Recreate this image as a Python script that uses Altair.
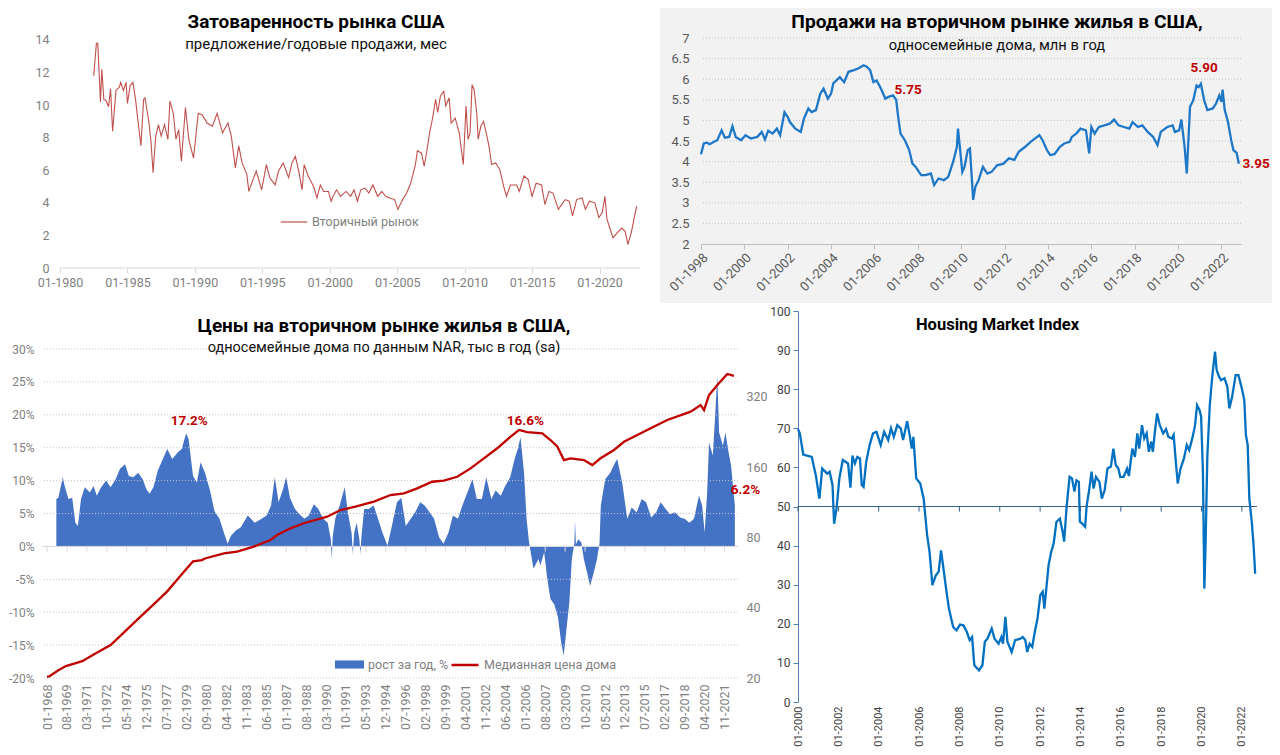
import altair as alt
import pandas as pd

FONT = "Roboto"

# ---------------- Panel 1: months of supply ----------------
p1_title = "Затоваренность рынка США"
p1_subtitle = "предложение/годовые продажи, мес"
p1_series = "Вторичный рынок"
p1_ticks = ["01-1980", "01-1985", "01-1990", "01-1995", "01-2000", "01-2005", "01-2010", "01-2015", "01-2020"]
p1_yticks = [0, 2, 4, 6, 8, 10, 12, 14]
p1_axis_span = [1980, 2023]
inv_year = [1982.5, 1982.7, 1982.8, 1983.0, 1983.1, 1983.25, 1983.4, 1983.6, 1983.75, 1983.9,
            1984.15, 1984.4, 1984.5, 1984.7, 1984.9, 1985.0, 1985.2, 1985.4, 1985.6, 1985.8,
            1986.0, 1986.2, 1986.3, 1986.6, 1986.75, 1986.9, 1987.1, 1987.3, 1987.5, 1987.75,
            1988.0, 1988.15, 1988.4, 1988.6, 1988.8, 1989.0, 1989.3, 1989.55, 1989.9, 1990.25,
            1990.55, 1990.9, 1991.3, 1991.65, 1992.05, 1992.45, 1992.7, 1993.0, 1993.25, 1993.5,
            1993.85, 1994.0, 1994.25, 1994.55, 1994.95, 1995.3, 1995.55, 1995.95, 1996.2, 1996.55,
            1996.95, 1997.2, 1997.45, 1997.7, 1997.95, 1998.1, 1998.4, 1998.8, 1999.05, 1999.3,
            1999.55, 1999.9, 2000.1, 2000.25, 2000.5, 2000.8, 2001.2, 2001.55, 2001.8, 2002.05,
            2002.3, 2002.6, 2002.9, 2003.2, 2003.55, 2003.85, 2004.15, 2004.45, 2004.8, 2005.05,
            2005.4, 2005.7, 2006.0, 2006.35, 2006.5, 2006.8, 2007.0, 2007.2, 2007.4, 2007.6,
            2007.85, 2008.0, 2008.2, 2008.45, 2008.6, 2008.85, 2009.0, 2009.3, 2009.6, 2009.9,
            2010.1, 2010.25, 2010.4, 2010.55, 2010.7, 2010.9, 2011.0, 2011.2, 2011.4, 2011.6,
            2011.8, 2012.0, 2012.3, 2012.6, 2012.9, 2013.1, 2013.4, 2013.85, 2014.05, 2014.4,
            2014.7, 2015.0, 2015.3, 2015.7, 2015.95, 2016.25, 2016.55, 2016.95, 2017.45, 2017.75,
            2018.0, 2018.3, 2018.7, 2018.95, 2019.25, 2019.65, 2019.95, 2020.2, 2020.4, 2020.55,
            2020.8, 2021.0, 2021.3, 2021.65, 2021.9, 2022.1, 2022.35, 2022.75]
inv_val = [11.8, 13.8, 13.8, 10.2, 12.2, 10.35, 10.3, 9.9, 11.0, 8.4,
           10.9, 11.1, 11.4, 10.9, 11.4, 10.1, 11.2, 11.4, 10.35, 8.9,
           7.5, 10.35, 10.45, 8.9, 7.7, 5.85, 8.1, 8.8, 8.1, 8.8,
           7.9, 10.25, 9.5, 7.9, 8.5, 6.55, 9.85, 7.9, 6.75, 9.5,
           9.4, 8.9, 8.7, 9.5, 8.3, 8.9, 8.1, 6.15, 7.5, 6.45,
           5.75, 4.7, 5.3, 5.95, 4.8, 6.35, 5.55, 5.1, 5.95, 6.45,
           5.55, 6.45, 6.85, 5.95, 4.8, 6.35, 5.65, 5.0, 4.3, 5.1,
           4.7, 4.7, 4.1, 4.4, 4.8, 4.4, 4.7, 4.4, 4.8, 4.1,
           4.8, 4.9, 4.6, 5.1, 4.4, 4.7, 4.4, 4.3, 4.2, 3.6,
           4.2, 4.6, 5.2, 6.35, 7.2, 7.05, 6.25, 7.2, 8.3, 9.1,
           10.35, 9.55, 10.55, 10.85, 9.95, 10.45, 8.9, 9.2, 8.3, 6.35,
           9.95, 7.9, 8.3, 11.25, 10.95, 9.5, 7.9, 8.7, 9.0, 8.3,
           7.5, 6.35, 6.45, 6.05, 5.0, 4.4, 5.1, 5.1, 4.7, 5.65,
           5.45, 4.4, 5.2, 5.1, 3.9, 4.7, 4.6, 3.6, 4.2, 4.1,
           3.2, 4.2, 4.3, 3.6, 4.1, 4.0, 3.1, 3.4, 4.4, 3.0,
           2.35, 1.85, 2.15, 2.45, 2.25, 1.45, 2.15, 3.8]

# ---------------- Panel 2: existing single-family home sales ----------------
p2_title = "Продажи на вторичном рынке жилья в США,"
p2_subtitle = "односемейные дома, млн в год"
p2_ticks = ["01-1998", "01-2000", "01-2002", "01-2004", "01-2006", "01-2008", "01-2010", "01-2012",
            "01-2014", "01-2016", "01-2018", "01-2020", "01-2022"]
p2_yticks = [2, 2.5, 3, 3.5, 4, 4.5, 5, 5.5, 6, 6.5, 7]
sales_year = [1998.0, 1998.13, 1998.27, 1998.4, 1998.6, 1998.75, 1998.95, 1999.1, 1999.3, 1999.45,
              1999.6, 1999.85, 2000.05, 2000.3, 2000.6, 2000.8, 2000.95, 2001.1, 2001.3, 2001.5,
              2001.65, 2001.85, 2002.0, 2002.1, 2002.35, 2002.6, 2002.75, 2002.95, 2003.1, 2003.3,
              2003.5, 2003.65, 2003.85, 2004.0, 2004.1, 2004.4, 2004.6, 2004.8, 2005.05, 2005.25,
              2005.5, 2005.65, 2005.8, 2005.95, 2006.1, 2006.3, 2006.5, 2006.65, 2006.85, 2007.0,
              2007.1, 2007.2, 2007.4, 2007.6, 2007.75, 2007.9, 2008.15, 2008.35, 2008.6, 2008.75,
              2008.95, 2009.2, 2009.4, 2009.55, 2009.65, 2009.8, 2009.85, 2009.95, 2010.05, 2010.15,
              2010.3, 2010.4, 2010.55, 2010.65, 2010.8, 2011.0, 2011.2, 2011.4, 2011.65, 2011.95,
              2012.2, 2012.45, 2012.65, 2012.95, 2013.2, 2013.5, 2013.6, 2013.75, 2013.95, 2014.1,
              2014.3, 2014.55, 2014.75, 2015.0, 2015.1, 2015.3, 2015.5, 2015.75, 2015.9, 2016.0,
              2016.15, 2016.35, 2016.6, 2016.85, 2017.05, 2017.25, 2017.5, 2017.75, 2017.9, 2018.15,
              2018.35, 2018.6, 2018.85, 2019.05, 2019.2, 2019.5, 2019.75, 2019.85, 2020.05, 2020.15,
              2020.3, 2020.4, 2020.55, 2020.7, 2020.85, 2020.95, 2021.05, 2021.2, 2021.35, 2021.6,
              2021.75, 2021.9, 2022.0, 2022.05, 2022.15, 2022.3, 2022.45, 2022.55, 2022.7, 2022.8]
sales_val = [4.18, 4.44, 4.46, 4.42, 4.48, 4.52, 4.76, 4.58, 4.6, 4.86,
             4.6, 4.52, 4.64, 4.56, 4.6, 4.72, 4.54, 4.75, 4.68, 4.8,
             4.64, 5.2, 5.08, 4.96, 4.8, 4.72, 5.05, 5.29, 5.2, 5.25,
             5.65, 5.77, 5.53, 5.65, 5.9, 6.05, 5.93, 6.18, 6.22, 6.26,
             6.34, 6.3, 6.22, 5.93, 5.97, 5.77, 5.53, 5.57, 5.61, 5.5,
             5.05, 4.68, 4.52, 4.28, 3.95, 3.87, 3.67, 3.67, 3.71, 3.43,
             3.59, 3.55, 3.63, 3.87, 4.04, 4.36, 4.8, 4.28, 3.75, 3.87,
             4.28, 4.32, 3.07, 3.39, 3.55, 3.87, 3.71, 3.75, 3.91, 3.95,
             4.08, 4.04, 4.24, 4.36, 4.48, 4.6, 4.64, 4.52, 4.28, 4.16,
             4.18, 4.36, 4.44, 4.48, 4.6, 4.68, 4.8, 4.76, 4.2, 4.84,
             4.68, 4.84, 4.88, 4.92, 5.02, 4.88, 4.84, 4.8, 4.96, 4.84,
             4.88, 4.72, 4.6, 4.4, 4.72, 4.84, 4.88, 4.72, 4.76, 5.02,
             4.36, 3.71, 5.33, 5.49, 5.85, 5.81, 5.89, 5.49, 5.25, 5.29,
             5.41, 5.61, 5.45, 5.75, 5.25, 4.96, 4.52, 4.28, 4.21, 3.95]
p2_note_year = [2007.55, 2021.2, 2023.6]
p2_note_val = [5.73, 6.27, 3.95]
p2_note_text = ["5.75", "5.90", "3.95"]

# ---------------- Panel 3: prices ----------------
p3_title = "Цены на вторичном рынке жилья в США,"
p3_subtitle = "односемейные дома по данным NAR, тыс в год (sa)"
p3_bar_name = "рост за год, %"
p3_line_name = "Медианная цена дома"
p3_ticks = ["01-1968", "08-1969", "03-1971", "10-1972", "05-1974", "12-1975", "07-1977", "02-1979",
            "09-1980", "04-1982", "11-1983", "06-1985", "01-1987", "08-1988", "03-1990", "10-1991",
            "05-1993", "12-1994", "07-1996", "02-1998", "09-1999", "04-2001", "11-2002", "06-2004",
            "01-2006", "08-2007", "03-2009", "10-2010", "05-2012", "12-2013", "07-2015", "02-2017",
            "09-2018", "04-2020", "11-2021"]
p3_yticks = [-20, -15, -10, -5, 0, 5, 10, 15, 20, 25, 30]
p3_price_ticks = [20, 40, 80, 160, 320]
yoy_year = [1968.74, 1968.9, 1969.25, 1969.4, 1969.7, 1970.0, 1970.25, 1970.45, 1970.7, 1971.0,
            1971.4, 1971.7, 1971.95, 1972.3, 1972.7, 1973.05, 1973.45, 1973.8, 1974.2, 1974.5,
            1974.85, 1975.25, 1975.6, 1975.9, 1976.15, 1976.45, 1976.8, 1977.2, 1977.55, 1977.95,
            1978.4, 1978.7, 1979.05, 1979.25, 1979.6, 1979.9, 1980.2, 1980.55, 1980.95, 1981.3,
            1981.7, 1982.05, 1982.35, 1982.6, 1983.0, 1983.4, 1983.95, 1984.5, 1985.05, 1985.45,
            1985.8, 1986.1, 1986.4, 1986.75, 1987.0, 1987.3, 1987.7, 1988.05, 1988.45, 1988.8,
            1989.2, 1989.55, 1989.95, 1990.3, 1990.55, 1990.62, 1990.7, 1990.9, 1991.25, 1991.65,
            1991.9, 1992.2, 1992.3, 1992.4, 1992.6, 1992.82, 1992.9, 1992.98, 1993.2, 1993.55,
            1993.95, 1994.3, 1994.65, 1995.05, 1995.4, 1995.8, 1996.15, 1996.5, 1996.9, 1997.25,
            1997.65, 1998.0, 1998.4, 1998.75, 1999.15, 1999.5, 1999.9, 2000.25, 2000.65, 2001.0,
            2001.4, 2001.8, 2002.15, 2002.55, 2002.9, 2003.3, 2003.65, 2004.05, 2004.4, 2004.8,
            2005.15, 2005.4, 2005.62, 2005.9, 2006.1, 2006.3, 2006.65, 2007.05, 2007.2, 2007.5,
            2007.75, 2008.0, 2008.3, 2008.6, 2008.85, 2009.05, 2009.3, 2009.5, 2009.7, 2009.9,
            2009.95, 2010.02, 2010.2, 2010.45, 2010.65, 2010.9, 2011.15, 2011.45, 2011.7, 2011.9,
            2012.0, 2012.35, 2012.75, 2013.15, 2013.3, 2013.7, 2014.1, 2014.45, 2014.85, 2015.25,
            2015.6, 2016.0, 2016.4, 2016.75, 2017.15, 2017.5, 2017.9, 2018.3, 2018.65, 2019.05,
            2019.4, 2019.8, 2020.05, 2020.25, 2020.45, 2020.6, 2020.9, 2021.1, 2021.25, 2021.4,
            2021.7, 2021.9, 2022.15, 2022.35, 2022.55, 2022.65]
yoy_val = [7.2, 7.4, 10.5, 9.2, 7.2, 7.4, 3.6, 3.1, 7.2, 9.0,
           8.2, 9.2, 7.7, 9.0, 10.0, 9.0, 10.2, 11.8, 12.5, 10.7,
           10.5, 11.2, 10.2, 8.7, 8.0, 9.0, 11.5, 13.3, 14.8, 13.3,
           14.3, 14.8, 17.2, 16.3, 10.7, 9.7, 12.8, 11.2, 8.5, 5.4,
           4.2, 2.1, 0.4, 1.6, 2.4, 2.9, 4.7, 3.6, 4.2, 4.7,
           6.2, 10.5, 6.7, 8.7, 10.5, 7.4, 5.7, 4.9, 4.2, 4.7,
           6.4, 5.7, 4.2, 3.6, 1.0, -1.9, 1.5, 4.2, 6.2, 9.0,
           5.2, 2.0, -1.2, 2.0, 3.6, 1.0, -1.2, 1.5, 5.7, 5.7,
           6.2, 4.2, 2.1, 0.1, 3.1, 6.7, 7.4, 3.1, 4.2, 5.2,
           6.7, 6.2, 5.2, 4.2, 1.4, 0.4, 2.1, 4.7, 4.2, 6.2,
           8.2, 10.2, 7.2, 7.2, 10.5, 7.2, 8.5, 7.7, 9.2, 10.5,
           13.3, 14.8, 16.6, 11.2, 4.2, 0.6, -3.4, -1.9, -2.9, -0.9,
           -5.0, -8.0, -8.8, -10.8, -14.6, -16.6, -12.1, -8.5, -1.9, 0.5,
           3.9, 0.3, 1.1, 0.6, -1.9, -3.9, -6.0, -3.9, -1.9, 0.5,
           6.2, 10.2, 11.2, 12.8, 13.3, 9.7, 4.2, 5.9, 5.2, 7.2,
           6.7, 4.4, 5.2, 6.7, 5.7, 4.9, 5.2, 4.4, 4.2, 3.6,
           4.2, 7.7, 6.2, 2.1, 8.2, 15.8, 13.8, 20.4, 25.9, 17.3,
           15.3, 17.3, 14.3, 12.3, 8.2, 6.2]
price_year = [1968.0, 1968.17, 1968.9, 1969.5, 1970.8, 1971.74, 1973.05, 1974.18, 1975.3, 1976.43,
              1977.55, 1978.67, 1979.6, 1980.3, 1980.55, 1982.05, 1983.1, 1984.43, 1985.75, 1986.28,
              1987.34, 1988.4, 1990.26, 1991.31, 1992.5, 1993.97, 1995.29, 1996.36, 1997.41, 1998.6,
              1999.53, 2000.59, 2001.65, 2002.71, 2003.77, 2004.83, 2005.5, 2006.16, 2007.35, 2008.0,
              2008.54, 2009.07, 2009.6, 2010.66, 2011.32, 2011.98, 2013.05, 2013.84, 2014.9, 2015.96,
              2017.28, 2019.14, 2019.93, 2020.2, 2020.6, 2021.26, 2022.05, 2022.58]
price_val = [20.2, 20.3, 21.6, 22.5, 23.6, 25.3, 27.7, 31.6, 36.1, 41.1,
             47.0, 55.3, 63.2, 64.0, 65.0, 68.4, 69.5, 73.0, 78.0, 81.9,
             87.5, 92.0, 98.1, 104.8, 108.3, 113.8, 121.5, 123.6, 129.8, 138.5,
             140.0, 145.5, 158.0, 174.5, 192.6, 216.0, 230.7, 226.0, 223.0, 209.0,
             196.0, 171.5, 174.5, 171.5, 163.3, 174.5, 189.4, 205.4, 219.6, 234.6,
             254.6, 276.4, 295.0, 280.6, 325.8, 359.6, 400.6, 393.0]
p3_note_year = [1979.3, 2006.0, 2023.5]
p3_note_val = [19.0, 19.0, 8.6]
p3_note_text = ["17.2%", "16.6%", "6.2%"]

# ---------------- Panel 4: Housing Market Index ----------------
p4_title = "Housing Market Index"
p4_ticks = ["01-2000", "01-2002", "01-2004", "01-2006", "01-2008", "01-2010", "01-2012", "01-2014",
            "01-2016", "01-2018", "01-2020", "01-2022"]
p4_yticks = [0, 10, 20, 30, 40, 50, 60, 70, 80, 90, 100]
p4_ref = 50
hmi_year = [2000.0, 2000.09, 2000.26, 2000.68, 2000.89, 2001.06, 2001.2, 2001.45, 2001.57, 2001.71,
            2001.79, 2001.91, 2002.05, 2002.22, 2002.48, 2002.6, 2002.7, 2002.82, 2002.94, 2003.07,
            2003.16, 2003.25, 2003.38, 2003.55, 2003.72, 2003.89, 2004.1, 2004.27, 2004.47, 2004.61,
            2004.75, 2004.92, 2005.09, 2005.21, 2005.41, 2005.55, 2005.64, 2005.72, 2005.86, 2006.06,
            2006.23, 2006.4, 2006.52, 2006.66, 2006.83, 2006.97, 2007.09, 2007.21, 2007.34, 2007.48,
            2007.69, 2007.86, 2008.03, 2008.2, 2008.37, 2008.51, 2008.63, 2008.74, 2008.97, 2009.14,
            2009.26, 2009.39, 2009.6, 2009.74, 2009.94, 2010.08, 2010.16, 2010.28, 2010.38, 2010.59,
            2010.76, 2011.02, 2011.14, 2011.27, 2011.36, 2011.48, 2011.61, 2011.75, 2011.87, 2012.01,
            2012.13, 2012.21, 2012.3, 2012.42, 2012.55, 2012.67, 2012.81, 2012.98, 2013.12, 2013.19,
            2013.32, 2013.46, 2013.58, 2013.7, 2013.8, 2013.92, 2013.97, 2014.09, 2014.23, 2014.31,
            2014.43, 2014.55, 2014.65, 2014.77, 2014.94, 2015.06, 2015.2, 2015.34, 2015.51, 2015.63,
            2015.75, 2015.88, 2015.97, 2016.14, 2016.31, 2016.4, 2016.57, 2016.7, 2016.82, 2016.91,
            2017.05, 2017.16, 2017.28, 2017.39, 2017.51, 2017.59, 2017.68, 2017.8, 2017.93, 2018.1,
            2018.24, 2018.36, 2018.53, 2018.62, 2018.7, 2018.82, 2018.96, 2019.13, 2019.27, 2019.39,
            2019.56, 2019.68, 2019.78, 2019.9, 2019.98, 2020.07, 2020.14, 2020.2, 2020.29, 2020.41,
            2020.53, 2020.67, 2020.75, 2020.87, 2020.97, 2021.14, 2021.28, 2021.38, 2021.52, 2021.69,
            2021.83, 2022.0, 2022.12, 2022.2, 2022.29, 2022.37, 2022.49, 2022.58, 2022.66]
hmi_val = [69.8, 68.7, 63.3, 62.7, 57.8, 52.0, 59.7, 58.4, 58.9, 55.5,
           45.6, 49.5, 57.2, 61.9, 61.0, 54.8, 63.0, 61.0, 62.7, 62.3,
           55.5, 55.0, 61.4, 65.7, 68.7, 69.1, 65.7, 69.1, 67.0, 70.0,
           67.8, 70.8, 70.0, 67.0, 71.8, 67.8, 64.8, 67.8, 57.2, 55.9,
           52.0, 42.7, 38.4, 29.9, 32.4, 33.3, 38.8, 34.1, 29.0, 23.9,
           19.2, 18.3, 19.8, 19.6, 17.9, 15.8, 16.6, 9.4, 8.1, 9.4,
           15.4, 16.2, 18.8, 16.2, 14.9, 16.6, 14.9, 21.8, 15.4, 12.8,
           15.8, 16.2, 16.6, 15.8, 12.8, 14.9, 14.1, 18.3, 21.3, 27.3,
           28.2, 23.9, 28.6, 35.0, 38.4, 40.5, 46.1, 46.9, 43.5, 41.0,
           50.3, 57.6, 57.2, 53.8, 56.7, 56.3, 46.1, 45.6, 44.8, 50.3,
           54.2, 58.9, 54.6, 57.6, 56.3, 52.0, 54.2, 59.7, 60.2, 64.8,
           60.6, 59.7, 57.6, 57.6, 59.7, 57.8, 64.8, 62.7, 68.7, 64.8,
           70.8, 67.4, 68.7, 64.0, 66.6, 64.0, 68.7, 73.8, 70.8, 68.7,
           69.8, 67.8, 67.4, 68.3, 63.1, 55.9, 59.7, 62.3, 65.7, 64.4,
           67.8, 70.8, 75.9, 74.7, 73.0, 58.9, 29.0, 40.1, 63.1, 75.9,
           83.2, 89.6, 84.9, 83.2, 82.3, 82.8, 80.6, 75.1, 78.1, 83.6,
           83.6, 80.2, 77.2, 68.3, 65.7, 52.0, 46.1, 40.1, 32.8]


def ym(s):
    return int(s[3:]) + (int(s[:2]) - 1) / 12.0


LBL = ("(round((datum.value - floor(datum.value + 0.001)) * 12) + 1 < 10 ? '0' : '') + "
       "(round((datum.value - floor(datum.value + 0.001)) * 12) + 1) + '-' + floor(datum.value + 0.001)")

one = pd.DataFrame({"a": [0]})


def frame(L, T, W, H, R, B, fill, opacity):
    return alt.Chart(one).mark_rect(fill=fill, opacity=opacity, strokeWidth=0).encode(
        x=alt.value(-L), x2=alt.value(W + R), y=alt.value(-T), y2=alt.value(H + B))


def title(text, sub, size, subsize, dx, offset, pad):
    kw = dict(text=text, fontSize=size, fontWeight="bold", color="#000000", anchor="middle",
              frame="group", dx=dx, offset=offset, font=FONT)
    if sub:
        kw.update(subtitle=sub, subtitleFontSize=subsize, subtitleColor="#111111",
                  subtitlePadding=pad, subtitleFont=FONT)
    return alt.TitleParams(**kw)


# ---------------- Panel 1 ----------------
W1, H1 = 598, 230
d1 = pd.DataFrame({"year": inv_year, "val": inv_val, "s": [p1_series] * len(inv_year)})
base1 = pd.DataFrame({"x0": [p1_axis_span[0]], "x1": [p1_axis_span[1]], "v": [0]})
xs1 = alt.Scale(domain=[1980 - 18 / 13.49, 2023], nice=False, zero=False)
ys1 = alt.Scale(domain=[0, 14.12], nice=False)
ax_x1 = alt.Axis(values=[ym(t) for t in p1_ticks], labelExpr=LBL, title=None, grid=False, domain=False,
                 tickColor="#d9d9d9", tickSize=5, labelOverlap=False, labelColor="#7f7f7f",
                 labelFontSize=12.5, labelPadding=3, labelFlush=False)
ax_y1 = alt.Axis(values=p1_yticks, title=None, grid=False, domain=False, ticks=False, offset=-18,
                 labelOverlap=False, labelColor="#7f7f7f", labelFontSize=12.5, labelPadding=11)
line1 = alt.Chart(d1).mark_line(strokeWidth=1.1).encode(
    x=alt.X("year:Q", scale=xs1, axis=ax_x1),
    y=alt.Y("val:Q", scale=ys1, axis=ax_y1),
    color=alt.Color("s:N", scale=alt.Scale(range=["#c0504d"]),
                    legend=alt.Legend(title=None, orient="none", legendX=238, legendY=170,
                                      symbolType="stroke", symbolSize=700, symbolStrokeWidth=1.2,
                                      labelFontSize=12.5, labelColor="#7f7f7f", labelFont=FONT)),
)
axis1 = alt.Chart(base1).mark_rule(color="#d9d9d9", strokeWidth=1).encode(
    x=alt.X("x0:Q", scale=xs1, axis=ax_x1), x2="x1:Q", y=alt.Y("v:Q", scale=ys1, axis=ax_y1))
p1 = alt.layer(frame(34, 30, W1, H1, 15, 35, "#ffffff", 0), line1, axis1).properties(
    width=W1, height=H1, title=title(p1_title, p1_subtitle, 19, 15, -25, -44, 5))

# ---------------- Panel 2 ----------------
W2, H2 = 540, 206
d2 = pd.DataFrame({"year": sales_year, "val": sales_val})
n2 = pd.DataFrame({"year": p2_note_year, "val": p2_note_val, "t": p2_note_text})
g2 = pd.DataFrame({"val": p2_yticks[1:]})
xs2 = alt.Scale(domain=[1998, 2022.9], nice=False, zero=False)
ys2 = alt.Scale(domain=[2, 7], nice=False, zero=False)
ax_x2 = alt.Axis(values=[ym(t) for t in p2_ticks], labelExpr=LBL, title=None, grid=False,
                 labelAngle=-45, domainColor="#bfbfbf", tickColor="#bfbfbf", tickSize=5,
                 labelOverlap=False, labelColor="#595959", labelFontSize=13, labelPadding=2, zindex=1)
ax_y2 = alt.Axis(values=p2_yticks, labelExpr="datum.value", title=None, grid=False,
                 domain=False, ticks=False, labelOverlap=False, labelColor="#595959",
                 labelFontSize=13, labelPadding=12, zindex=1)
line2 = alt.Chart(d2).mark_line(color="#1f77c8", strokeWidth=2.3).encode(
    x=alt.X("year:Q", scale=xs2, axis=ax_x2), y=alt.Y("val:Q", scale=ys2, axis=ax_y2))
grid2 = alt.Chart(g2).mark_rule(color="#c4c4c4", strokeDash=[1, 2], strokeWidth=1).encode(
    y=alt.Y("val:Q", scale=ys2, axis=ax_y2))
text2 = alt.Chart(n2).mark_text(color="#c00000", fontWeight="bold", fontSize=13.5, font=FONT).encode(
    x=alt.X("year:Q", scale=xs2, axis=ax_x2), y=alt.Y("val:Q", scale=ys2, axis=ax_y2), text="t:N")
p2 = alt.layer(frame(41, 30, W2, H2, 31, 59, "#f2f2f2", 1), grid2, line2, text2).properties(
    width=W2, height=H2, title=title(p2_title, p2_subtitle, 19.2, 14.7, 26, -44.5, 6))

# ---------------- Panel 3 ----------------
W3, H3 = 696, 367
d3 = pd.DataFrame({"year": yoy_year, "val": yoy_val, "s": [p3_bar_name] * len(yoy_year)})
dp = pd.DataFrame({"year": price_year, "price": price_val, "s": [p3_line_name] * len(price_year)})
n3 = pd.DataFrame({"year": p3_note_year, "val": p3_note_val, "t": p3_note_text})
tk3 = pd.DataFrame({"year": [ym(t) for t in p3_ticks], "y0": [0] * len(p3_ticks),
                    "y1": [-0.8] * len(p3_ticks)})
g3 = pd.DataFrame({"val": p3_yticks})
z3 = pd.DataFrame({"val": [0]})
xs3 = alt.Scale(domain=[1967.6, 2022.9], nice=False, zero=False)
ys3 = alt.Scale(domain=[-20, 35.78], nice=False, zero=False)
ax_x3 = alt.Axis(values=[ym(t) for t in p3_ticks], labelExpr=LBL, title=None, grid=False,
                 domain=False, ticks=False, labelAngle=-90, labelColor="#7f7f7f",
                 labelOverlap=False, labelFontSize=12.5, labelPadding=6)
ax_y3 = alt.Axis(values=p3_yticks, labelExpr="datum.value + '%'", title=None, grid=False,
                 domain=False, ticks=False, labelOverlap=False,
                 labelColor="#7f7f7f", labelFontSize=12, labelPadding=8)
area3 = alt.Chart(d3).mark_area(interpolate="linear").encode(
    x=alt.X("year:Q", scale=xs3, axis=ax_x3),
    y=alt.Y("val:Q", scale=ys3, axis=ax_y3),
    fill=alt.Fill("s:N", scale=alt.Scale(range=["#4472c4"]),
                  legend=alt.Legend(title=None, orient="none", legendX=293, legendY=339,
                                    symbolType="M-1,-0.28H1V0.28H-1Z", symbolSize=841,
                                    symbolStrokeWidth=0, labelFontSize=12.5, labelColor="#7f7f7f",
                                    labelFont=FONT)),
)
grid3 = alt.Chart(g3).mark_rule(color="#c4c4c4", strokeDash=[1, 2], strokeWidth=1).encode(
    y=alt.Y("val:Q", scale=ys3, axis=ax_y3))
zero3 = alt.Chart(z3).mark_rule(color="#d9d9d9", strokeWidth=1).encode(
    y=alt.Y("val:Q", scale=ys3, axis=ax_y3))
ticks3 = alt.Chart(tk3).mark_rule(color="#d9d9d9", strokeWidth=1).encode(
    x=alt.X("year:Q", scale=xs3, axis=ax_x3), y=alt.Y("y0:Q", scale=ys3, axis=ax_y3), y2="y1:Q")
text3 = alt.Chart(n3).mark_text(color="#c00000", fontWeight="bold", fontSize=13.5, font=FONT).encode(
    x=alt.X("year:Q", scale=xs3, axis=ax_x3), y=alt.Y("val:Q", scale=ys3, axis=ax_y3), text="t:N")
price3 = alt.Chart(dp).mark_line(strokeWidth=2.3).encode(
    x=alt.X("year:Q", scale=xs3, axis=ax_x3),
    y=alt.Y("price:Q", scale=alt.Scale(type="log", base=2, domain=[20, 745.6], nice=False),
            axis=alt.Axis(orient="right", values=p3_price_ticks, title=None, grid=False, domain=False,
                          ticks=False, labelOverlap=False, labelColor="#7f7f7f", labelFontSize=12.5,
                          labelPadding=8)),
    stroke=alt.Stroke("s:N", scale=alt.Scale(range=["#c00000"]),
                      legend=alt.Legend(title=None, orient="none", legendX=408, legendY=339,
                                        symbolType="stroke", symbolSize=729, symbolStrokeWidth=2.5,
                                        labelFontSize=12.5, labelColor="#7f7f7f", labelFont=FONT)),
)
inner3 = alt.layer(frame(34, 8, W3, H3, 30, 69, "#ffffff", 0), area3, grid3, zero3, ticks3, text3)
p3 = alt.layer(inner3, price3).resolve_scale(y="independent").properties(
    width=W3, height=H3, title=title(p3_title, p3_subtitle, 18.9, 14.5, -6, -51, 5))

# ---------------- Panel 4 ----------------
W4, H4 = 459, 391
d4 = pd.DataFrame({"year": hmi_year, "val": hmi_val})
tk4 = pd.DataFrame({"year": [ym(t) for t in p4_ticks], "y0": [p4_ref] * len(p4_ticks),
                    "y1": [p4_ref - 1.3] * len(p4_ticks)})
r4 = pd.DataFrame({"val": [p4_ref]})
xs4 = alt.Scale(domain=[2000, 2022.75], nice=False, zero=False)
ys4 = alt.Scale(domain=[0, 100], nice=False)
ax_x4 = alt.Axis(values=[ym(t) for t in p4_ticks], labelExpr=LBL, title=None, grid=False,
                 domain=False, ticks=False, labelAngle=-90, labelColor="#404040",
                 labelOverlap=False, labelFontSize=11, labelPadding=4)
ax_y4 = alt.Axis(values=p4_yticks, title=None, grid=False, domain=True, domainColor="#4f81bd",
                 ticks=True, tickColor="#4f81bd", tickSize=5, labelColor="#404040",
                 labelOverlap=False, labelFontSize=12, labelPadding=3)
line4 = alt.Chart(d4).mark_line(color="#0070c0", strokeWidth=2.3).encode(
    x=alt.X("year:Q", scale=xs4, axis=ax_x4), y=alt.Y("val:Q", scale=ys4, axis=ax_y4))
ref4 = alt.Chart(r4).mark_rule(color="#35618f", strokeWidth=1.2).encode(
    y=alt.Y("val:Q", scale=ys4, axis=ax_y4))
ticks4 = alt.Chart(tk4).mark_rule(color="#35618f", strokeWidth=1).encode(
    x=alt.X("year:Q", scale=xs4, axis=ax_x4), y=alt.Y("y0:Q", scale=ys4, axis=ax_y4), y2="y1:Q")
p4 = alt.layer(frame(30, 8, W4, H4, 15, 45, "#ffffff", 0), line4, ref4, ticks4).properties(
    width=W4, height=H4, title=title(p4_title, None, 16.5, 14, -30, -30, 5))

top = alt.hconcat(p1, p2, spacing=5).resolve_scale(color="independent", fill="independent",
                                                   stroke="independent")
bottom = alt.hconcat(p3, p4, spacing=0).resolve_scale(color="independent", fill="independent",
                                                      stroke="independent")
chart = (alt.vconcat(top, bottom, spacing=0)
         .resolve_scale(color="independent", fill="independent", stroke="independent")
         .properties(padding=0)
         .configure(font=FONT)
         .configure_view(stroke="transparent", strokeWidth=0)
         .configure_axis(labelFont=FONT))

chart.save("out.html", embed_options={"renderer": "svg", "actions": False})
